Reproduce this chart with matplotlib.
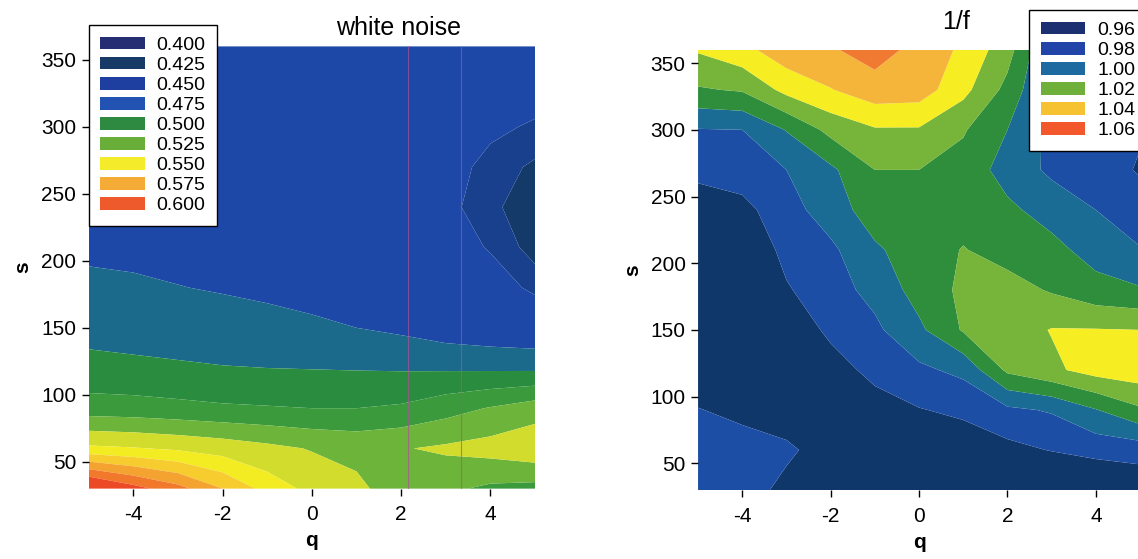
"""
Contour maps of s vs q: white noise and 1/f
Output: out.png
"""
import matplotlib.pyplot as plt
from matplotlib.patches import Patch

plt.rcParams["font.family"] = ["Liberation Sans", "DejaVu Sans"]
plt.rcParams["axes.unicode_minus"] = False

# grid
q_vals = [-5, -4, -3, -2, -1, 0, 1, 2, 3, 4, 5]
s_vals = [30, 60, 90, 120, 150, 180, 210, 240, 270, 300, 330, 360]

# white noise surface (rows = s, cols = q)
white_noise = [
    [0.620, 0.605, 0.592, 0.575, 0.558, 0.546, 0.538, 0.528, 0.523, 0.517, 0.515],
    [0.553, 0.551, 0.548, 0.544, 0.539, 0.534, 0.531, 0.534, 0.5375, 0.541, 0.546],
    [0.512, 0.511, 0.509, 0.507, 0.506, 0.505, 0.505, 0.507, 0.514, 0.521, 0.528],
    [0.4935, 0.4925, 0.4915, 0.4905, 0.490, 0.4895, 0.489, 0.4885, 0.488, 0.4875, 0.487],
    [0.486, 0.485, 0.484, 0.483, 0.4805, 0.4775, 0.475, 0.472, 0.467, 0.464, 0.462],
    [0.4795, 0.478, 0.4755, 0.4735, 0.4715, 0.470, 0.468, 0.466, 0.460, 0.452, 0.435],
    [0.471, 0.470, 0.469, 0.468, 0.467, 0.466, 0.465, 0.462, 0.452, 0.438, 0.418],
    [0.468, 0.467, 0.466, 0.465, 0.464, 0.463, 0.462, 0.459, 0.446, 0.429, 0.414],
    [0.467, 0.466, 0.465, 0.464, 0.463, 0.462, 0.462, 0.460, 0.450, 0.433, 0.422],
    [0.466, 0.466, 0.465, 0.464, 0.463, 0.463, 0.463, 0.462, 0.456, 0.445, 0.437],
    [0.466, 0.466, 0.465, 0.465, 0.464, 0.464, 0.464, 0.463, 0.460, 0.455, 0.452],
    [0.467, 0.466, 0.466, 0.465, 0.465, 0.465, 0.465, 0.464, 0.463, 0.461, 0.460],
]

# 1/f surface (rows = s, cols = q)
one_over_f = [
    [0.976, 0.975, 0.967, 0.962, 0.958, 0.955, 0.954, 0.955, 0.955, 0.958, 0.962],
    [0.974, 0.975, 0.972, 0.965, 0.957, 0.959, 0.964, 0.967, 0.9705, 0.9735, 0.9745],
    [0.9705, 0.967, 0.964, 0.960, 0.964, 0.9695, 0.972, 0.978, 0.981, 0.9895, 0.9985],
    [0.962, 0.957, 0.954, 0.964, 0.974, 0.978, 0.9825, 1.002, 1.008, 1.014, 1.016],
    [0.958, 0.955, 0.960, 0.973, 0.978, 0.988, 1.001, 1.005, 1.0105, 1.0105, 1.010],
    [0.958, 0.957, 0.969, 0.976, 0.983, 0.994, 1.002, 1.004, 0.999, 0.9935, 0.991],
    [0.961, 0.961, 0.973, 0.978, 0.9885, 0.995, 1.0005, 0.996, 0.993, 0.986, 0.9805],
    [0.966, 0.967, 0.976, 0.985, 0.995, 0.996, 0.996, 0.992, 0.986, 0.980, 0.975],
    [0.972, 0.975, 0.980, 0.988, 1.000, 1.000, 0.996, 0.986, 0.978, 0.975, 0.969],
    [0.9795, 0.980, 0.9905, 1.003, 1.009, 1.009, 1.001, 0.990, 0.977, 0.973, 0.971],
    [0.999, 1.001, 1.013, 1.0195, 1.026, 1.025, 1.013, 0.997, 0.977, 0.976, 0.974],
    [1.011, 1.017, 1.026, 1.029, 1.034, 1.027, 1.018, 1.004, 0.978, 0.979, 0.976],
]

# contour levels and band colours
wn_levels = [0.39, 0.425, 0.44, 0.475, 0.49, 0.505, 0.52, 0.535, 0.55,
             0.5625, 0.575, 0.5875, 0.6, 0.64]
wn_colors = ["#133a68", "#19408c", "#1d48a8", "#1b6a8c", "#2a8c3e", "#3a9a3c",
             "#6db43a", "#d2dc2c", "#f4ec22", "#f6cc2e", "#f4a230", "#f2782c",
             "#ec4a26"]
f_levels = [0.94, 0.97, 0.98, 0.99, 1.00, 1.01, 1.02, 1.03, 1.07]
f_colors = ["#10376a", "#1d4ea6", "#1b6c94", "#2f8e3c", "#76b43a", "#f6ee22",
            "#f5b53a", "#f07a32"]

# legend entries
wn_labels = ["0.400", "0.425", "0.450", "0.475", "0.500", "0.525", "0.550",
             "0.575", "0.600"]
wn_legend_colors = ["#252e72", "#173a66", "#1f3fa0", "#2252b2", "#2e8a40",
                    "#6aae3a", "#f4ec2a", "#f4ac36", "#ef5a2c"]
f_labels = ["0.96", "0.98", "1.00", "1.02", "1.04", "1.06"]
f_legend_colors = ["#1c2f70", "#2244a8", "#1d6aa0", "#6fb03a", "#f6c232", "#f2582c"]

# faint vertical lines visible on the white noise panel
wn_vlines = [2.16, 3.33]

fig = plt.figure(figsize=(11.38, 5.59), dpi=100)

ax1 = fig.add_axes([0.0779, 0.1259, 0.3923, 0.7911])
ax2 = fig.add_axes([0.6134, 0.1234, 0.3884, 0.7875])

ax1.contourf(q_vals, s_vals, white_noise, levels=wn_levels, colors=wn_colors,
             antialiased=True)
for xv in wn_vlines:
    ax1.axvline(xv, color="#b0509a", lw=0.8, alpha=0.7)

ax2.contourf(q_vals, s_vals, one_over_f, levels=f_levels, colors=f_colors,
             antialiased=True)

for ax in (ax1, ax2):
    ax.set_xlim(-5, 5)
    ax.set_ylim(30, 360)
    ax.set_xticks([-4, -2, 0, 2, 4])
    ax.set_yticks([50, 100, 150, 200, 250, 300, 350])
    for sp in ax.spines.values():
        sp.set_visible(False)
    ax.tick_params(direction="out", length=5, width=1, labelsize=15)
    ax.tick_params(axis="x", pad=7)
    ax.tick_params(axis="y", pad=4)
    ax.set_xlabel("q", fontsize=15, fontweight="bold", labelpad=5)
    ax.set_ylabel("s", fontsize=15, fontweight="bold", labelpad=6)

ax1.text(0.693, 1.042, "white noise", transform=ax1.transAxes, ha="center",
         va="center", fontsize=18)
ax2.text(0.584, 1.063, "1/f", transform=ax2.transAxes, ha="center",
         va="center", fontsize=18)

# legends
h1 = [Patch(facecolor=c, edgecolor="none") for c in wn_legend_colors]
leg1 = ax1.legend(h1, wn_labels, loc="upper left", bbox_to_anchor=(0, 1.048),
                  borderaxespad=0, fontsize=14, handlelength=2.3,
                  handleheight=0.62, handletextpad=0.6, labelspacing=0.15,
                  borderpad=0.6, fancybox=False, framealpha=1,
                  edgecolor="black")
leg1.get_frame().set_linewidth(1)

h2 = [Patch(facecolor=c, edgecolor="none") for c in f_legend_colors]
leg2 = ax2.legend(h2, f_labels, loc="upper left", bbox_to_anchor=(0.749, 1.09),
                  borderaxespad=0, fontsize=14, handlelength=2.3,
                  handleheight=0.62, handletextpad=0.6, labelspacing=0.15,
                  borderpad=0.6, fancybox=False, framealpha=1,
                  edgecolor="black")
leg2.get_frame().set_linewidth(1)

fig.savefig("out.png", dpi=100)
